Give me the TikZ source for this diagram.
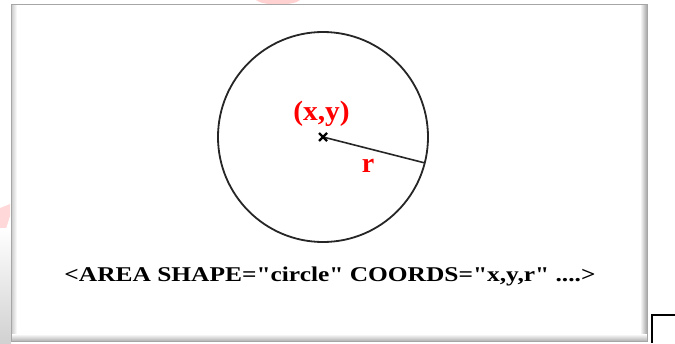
\documentclass[tikz,border=0pt]{standalone}
\usepackage{fontspec}
\setmainfont{Liberation Serif}[Ligatures=TeXOff]
\begin{document}
\begin{tikzpicture}[x=1pt,y=-1pt,
  redlabel/.style={text=red, font=\bfseries\fontsize{28}{28}\selectfont, inner sep=0pt, anchor=base},
  codetext/.style={font=\bfseries\fontsize{21}{21}\selectfont, inner sep=0pt, anchor=base},
  outline/.style={draw=black!85, line width=1.8pt}]
\useasboundingbox (0,0) rectangle (675,343);
% watermark traces
\fill[red!18] (256,0) .. controls (262,6) and (294,6) .. (300,0) -- cycle;
\fill[red!15] (0,208) -- (10,204) -- (10,216) -- (0,248) -- cycle;
% outside shadow on the left
\shade[top color=white, bottom color=black!18] (0,228) rectangle (11,343);
% frame
\fill[white] (11,4) rectangle (647,341);
\shade[left color=black!22, right color=white] (11,4) rectangle (17,341);
\shade[left color=white, right color=black!35] (640,4) rectangle (647,341);
\shade[top color=white, bottom color=black!30] (11,334) rectangle (647,341);
\draw[black!35, line width=0.8pt] (11,4) rectangle (647,341);
% circle
\coordinate (c) at (323,137);
\draw[outline] (c) circle (105pt);
\coordinate (rend) at (424.7,162.9);
\draw[outline, line width=1.6pt] (c) -- (rend);
\draw[line width=2.4pt] (319,133) -- (327,141) (319,141) -- (327,133);
\node[redlabel, xscale=1.05] (xy) at (321.5,120) {(x,y)};
\node[redlabel] (r) at (368,172) {r};
\node[codetext, xscale=1.21] (code) at (330,281) {<AREA SHAPE="circle" COORDS="x,y,r" ....>};
% corner bracket
\draw[line width=1.5pt] (675,315) -- (652,315) -- (652,343);
\end{tikzpicture}
\end{document}
